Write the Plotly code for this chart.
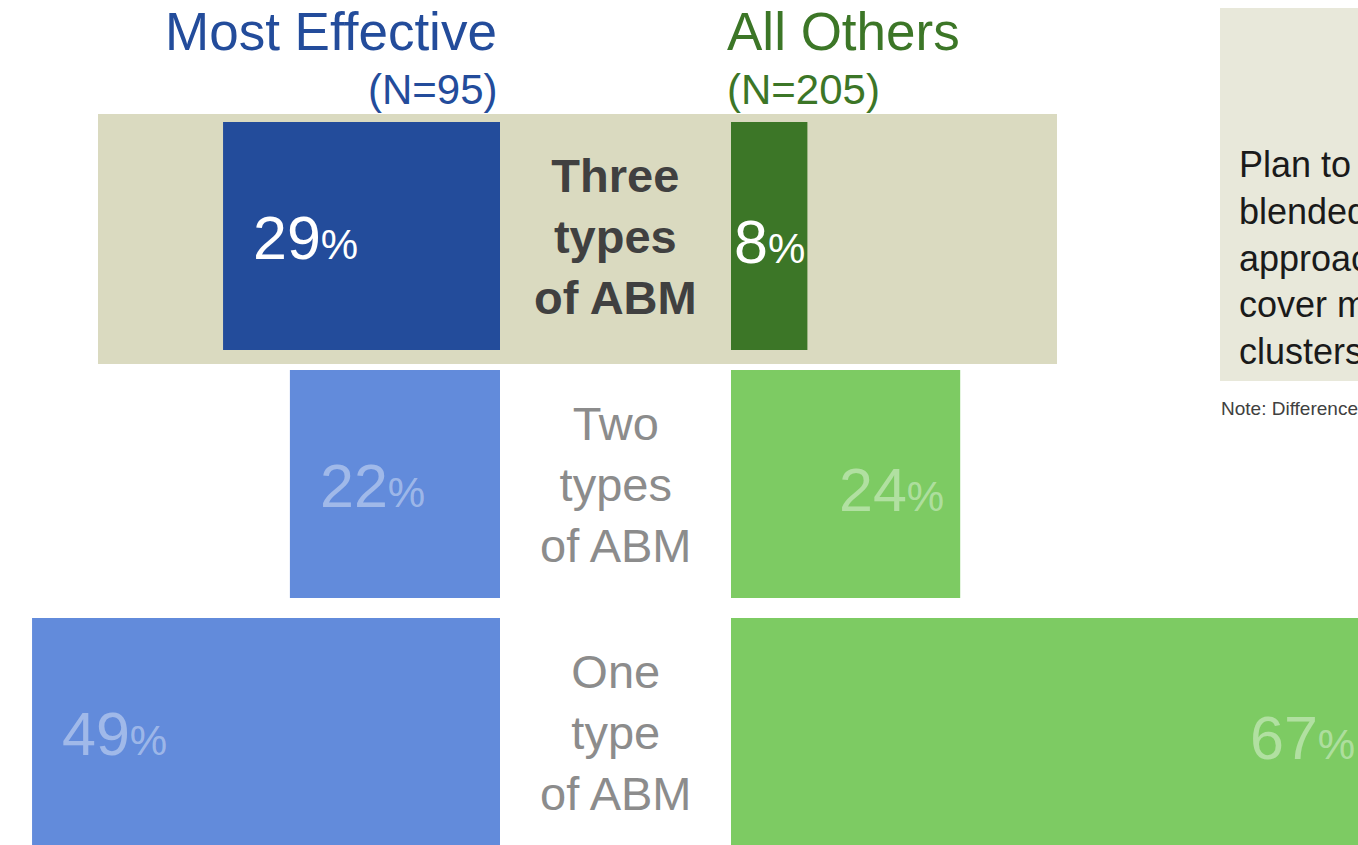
import plotly.graph_objects as go

# data (top row first)
categories = ["Three types of ABM", "Two types of ABM", "One type of ABM"]
category_labels = ["Three<br>types<br>of ABM", "Two<br>types<br>of ABM", "One<br>type<br>of ABM"]
most_effective = [29, 22, 49]
all_others = [8, 24, 67]
group_names = ["Most Effective", "All Others"]
group_n = ["(N=95)", "(N=205)"]
note_text = "Plan to use a<br>blended ABM<br>approach to<br>cover more<br>clusters"
footnote = "Note: Differences are statistically significant"

FONT = "Arial, Liberation Sans, sans-serif"
W, H = 1358, 845


def fx(px):
    return px / W


def fy(py):
    return 1 - py / H


blue_dark, blue_light = "#234C9B", "#628BDB"
green_dark, green_light = "#3C7627", "#7DCB63"

left_colors = [blue_dark, blue_light, blue_light]
right_colors = [green_dark, green_light, green_light]
label_colors = ["#FFFFFF", "rgba(255,255,255,0.4)", "rgba(255,255,255,0.4)"]
center_colors = ["#404040", "#8C8C8C", "#8C8C8C"]

fig = go.Figure()

fig.add_trace(go.Bar(
    x=most_effective, y=categories, orientation="h",
    marker=dict(color=left_colors, line=dict(width=0)),
    width=0.92, xaxis="x", yaxis="y", hoverinfo="x+y",
))
fig.add_trace(go.Bar(
    x=all_others, y=categories, orientation="h",
    marker=dict(color=right_colors, line=dict(width=0)),
    width=0.92, xaxis="x2", yaxis="y", hoverinfo="x+y",
))

px_per_pct = 9.55
x1_max = 500 / px_per_pct
x2_max = (W - 731) / px_per_pct


def pct(v):
    return f"{v}<span style='font-size:42px'>%</span>"


annotations = []
for i, cat in enumerate(categories):
    # left bars grow to the left; label near the outer end
    annotations.append(dict(
        x=most_effective[i], y=cat, xref="x", yref="y",
        text=pct(most_effective[i]), showarrow=False,
        xanchor="left", xshift=28, yshift=-2,
        font=dict(family=FONT, size=61, color=label_colors[i]),
    ))
    v = all_others[i]
    if v < 12:
        annotations.append(dict(
            x=v / 2, y=cat, xref="x2", yref="y",
            text=pct(v), showarrow=False, xanchor="center", yshift=-6,
            font=dict(family=FONT, size=61, color=label_colors[i]),
        ))
    else:
        xv = min(v, x2_max - 0.01)
        annotations.append(dict(
            x=xv, y=cat, xref="x2", yref="y",
            text=pct(v), showarrow=False, xanchor="right",
            xshift=-14 + (v - xv) * px_per_pct, yshift=-6,
            font=dict(family=FONT, size=61, color=label_colors[i]),
        ))
    bold = i == 0
    annotations.append(dict(
        x=fx(615.5), y=cat, xref="paper", yref="y",
        text=f"<b>{category_labels[i]}</b>" if bold else category_labels[i],
        showarrow=False, xanchor="center", yanchor="middle", align="center",
        font=dict(family=FONT, size=47, color=center_colors[i]),
    ))

# group headers and side note
annotations += [
    dict(x=fx(499), y=fy(32), xref="paper", yref="paper", text=group_names[0],
         showarrow=False, xanchor="right", yanchor="middle",
         font=dict(family=FONT, size=53, color=blue_dark)),
    dict(x=fx(500), y=fy(89), xref="paper", yref="paper", text=group_n[0],
         showarrow=False, xanchor="right", yanchor="middle",
         font=dict(family=FONT, size=42, color=blue_dark)),
    dict(x=fx(725), y=fy(32), xref="paper", yref="paper", text=group_names[1],
         showarrow=False, xanchor="left", yanchor="middle",
         font=dict(family=FONT, size=53, color=green_dark)),
    dict(x=fx(725), y=fy(89), xref="paper", yref="paper", text=group_n[1],
         showarrow=False, xanchor="left", yanchor="middle",
         font=dict(family=FONT, size=42, color=green_dark)),
    dict(x=fx(1237), y=fy(258), xref="paper", yref="paper", text=note_text,
         showarrow=False, xanchor="left", yanchor="middle", align="left",
         font=dict(family=FONT, size=36, color="#1A1A1A")),
    dict(x=fx(1219), y=fy(408), xref="paper", yref="paper", text=footnote,
         showarrow=False, xanchor="left", yanchor="middle", align="left",
         font=dict(family=FONT, size=19, color="#404040")),
]

# y axis: row centres at 236 / 484 / 732 px, 248 px apart
row_gap = 248
top_center = 236
bottom_center = 732
y_range = [-(H - bottom_center) / row_gap, 2 + top_center / row_gap]

shapes = [
    # highlight band behind top row
    dict(type="rect", xref="paper", yref="y", x0=fx(98), x1=fx(1057),
         y0=2 - (364 - 236) / row_gap, y1=2 + (236 - 114) / row_gap,
         fillcolor="#DADAC0", line=dict(width=0), layer="below"),
    # note box
    dict(type="rect", xref="paper", yref="paper", x0=fx(1220), x1=1.1,
         y0=fy(381), y1=fy(8), fillcolor="#E8E8DA", line=dict(width=0), layer="below"),
]

fig.update_layout(
    width=W, height=H,
    margin=dict(l=0, r=0, t=0, b=0),
    paper_bgcolor="white", plot_bgcolor="rgba(0,0,0,0)",
    showlegend=False, barmode="overlay",
    annotations=annotations, shapes=shapes,
    xaxis=dict(domain=[0, fx(500)], range=[x1_max, 0], visible=False,
               showgrid=False, zeroline=False, fixedrange=True),
    xaxis2=dict(domain=[fx(731), 1], range=[0, x2_max], visible=False,
                showgrid=False, zeroline=False, anchor="y", fixedrange=True),
    yaxis=dict(type="category", categoryorder="array", categoryarray=categories[::-1],
               range=y_range, visible=False, showgrid=False, fixedrange=True),
)

# drop the default page margin so the figure fills the window exactly
fig.write_html("out.html", config={"displayModeBar": False},
               post_script="document.body.style.margin='0';document.body.style.overflow='hidden';")
